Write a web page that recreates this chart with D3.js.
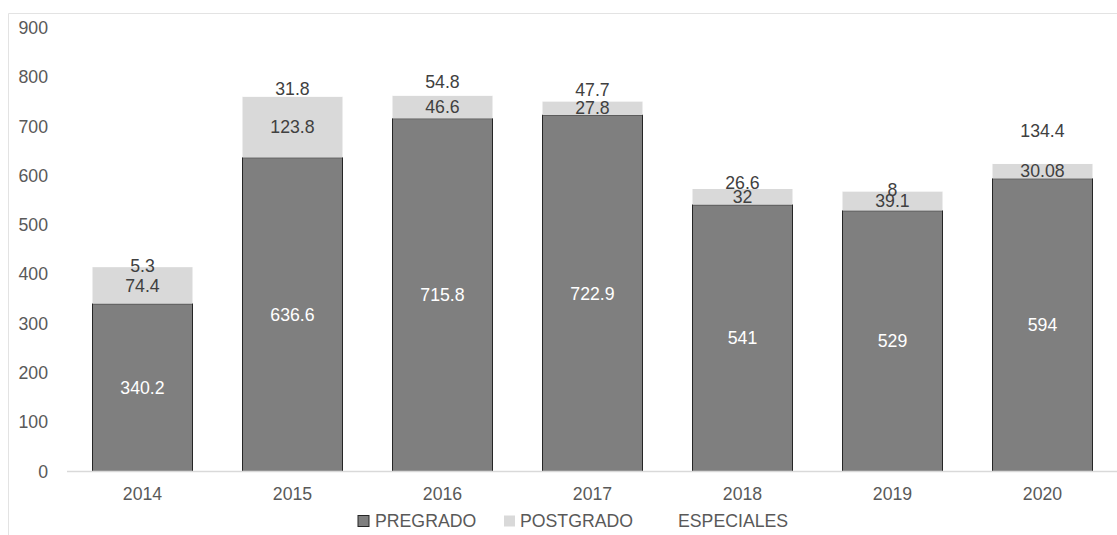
<!DOCTYPE html>
<html>
<head>
<meta charset="utf-8">
<script src="https://cdn.jsdelivr.net/npm/d3@7"></script>
<style>
  html, body { margin: 0; padding: 0; background: #fff; }
  svg { display: block; font-family: "Liberation Sans", Arial, sans-serif; }
</style>
</head>
<body>
<svg id="chart" width="1117" height="535"></svg>
<script>
// Enrolment by year, stacked by programme type
const years = ["2014", "2015", "2016", "2017", "2018", "2019", "2020"];
const pregrado = [340.2, 636.6, 715.8, 722.9, 541, 529, 594];
const postgrado = [74.4, 123.8, 46.6, 27.8, 32, 39.1, 30.08];
const especiales = [5.3, 31.8, 54.8, 47.7, 26.6, 8, 134.4];
const postgradoLabels = ["74.4", "123.8", "46.6", "27.8", "32", "39.1", "30.08"];
const yTicks = [0, 100, 200, 300, 400, 500, 600, 700, 800, 900];
const seriesNames = ["PREGRADO", "POSTGRADO", "ESPECIALES"];

const svg = d3.select("#chart");
const W = 1117, H = 535;

// chart frame (top and left edges visible)
svg.append("line").attr("x1", 8.5).attr("x2", W).attr("y1", 13.5).attr("y2", 13.5)
  .attr("stroke", "#e3e3e3").attr("stroke-width", 1);
svg.append("line").attr("x1", 8.5).attr("x2", 8.5).attr("y1", 13.5).attr("y2", H)
  .attr("stroke", "#e3e3e3").attr("stroke-width", 1);

const x = d3.scaleBand().domain(years).range([67.5, 1117.5])
  .paddingInner(1 / 3).paddingOuter(1 / 6);
const y = d3.scaleLinear().domain([0, 900]).range([471.5, 27.8]);

const rows = years.map((yr, i) => ({
  year: yr, PREGRADO: pregrado[i], POSTGRADO: postgrado[i], ESPECIALES: especiales[i]
}));
const stacked = d3.stack().keys(seriesNames)(rows);

const fills = { PREGRADO: "#7f7f7f", POSTGRADO: "#d9d9d9", ESPECIALES: "#ffffff" };
const strokes = { PREGRADO: "#262626", POSTGRADO: "none", ESPECIALES: "none" };
const labelColors = { PREGRADO: "#ffffff", POSTGRADO: "#404040", ESPECIALES: "#404040" };
const fontSize = 17.7;

// bars
stacked.forEach(layer => {
  svg.append("g").selectAll("rect").data(layer).join("rect")
    .attr("x", d => x(d.data.year))
    .attr("width", x.bandwidth())
    .attr("y", d => y(d[1]))
    .attr("height", d => y(d[0]) - y(d[1]))
    .attr("fill", fills[layer.key])
    .attr("stroke", strokes[layer.key])
    .attr("stroke-width", 1);
});

// x axis line
svg.append("line").attr("x1", 67).attr("x2", W).attr("y1", y(0)).attr("y2", y(0))
  .attr("stroke", "#d9d9d9").attr("stroke-width", 1.5);

// value labels, centred in each segment
stacked.forEach(layer => {
  svg.append("g").selectAll("text").data(layer).join("text")
    .attr("x", d => x(d.data.year) + x.bandwidth() / 2)
    .attr("y", d => (y(d[0]) + y(d[1])) / 2)
    .attr("dy", "0.35em")
    .attr("text-anchor", "middle")
    .attr("font-size", fontSize)
    .attr("fill", labelColors[layer.key])
    .text((d, i) => layer.key === "POSTGRADO" ? postgradoLabels[i] : String(d.data[layer.key]));
});

// y axis labels
const yAxis = d3.axisLeft(y).tickValues(yTicks).tickSize(0).tickPadding(0);
const gy = svg.append("g").attr("transform", "translate(48,0)").call(yAxis);
gy.select(".domain").remove();
gy.selectAll("text").attr("font-size", fontSize).attr("fill", "#595959")
  .attr("font-family", "Liberation Sans, Arial, sans-serif");

// x axis labels
const xAxis = d3.axisBottom(x).tickSize(0).tickPadding(0);
const gx = svg.append("g").attr("transform", `translate(0,${y(0)})`).call(xAxis);
gx.select(".domain").remove();
gx.selectAll("text").attr("font-size", fontSize).attr("fill", "#595959")
  .attr("y", 22).attr("dy", "0.35em")
  .attr("font-family", "Liberation Sans, Arial, sans-serif");

// legend
const legendY = 521;
const legendItems = [
  { name: seriesNames[0], sx: 358, tx: 375 },
  { name: seriesNames[1], sx: 504, tx: 520 },
  { name: seriesNames[2], sx: 662, tx: 678 }
];
const lg = svg.append("g");
legendItems.forEach(it => {
  lg.append("rect").attr("x", it.sx).attr("y", legendY - 5.5).attr("width", 11).attr("height", 11)
    .attr("fill", fills[it.name]).attr("stroke", strokes[it.name]).attr("stroke-width", 1);
  lg.append("text").attr("x", it.tx).attr("y", legendY).attr("dy", "0.35em")
    .attr("font-size", fontSize).attr("fill", "#595959").text(it.name);
});
</script>
</body>
</html>
